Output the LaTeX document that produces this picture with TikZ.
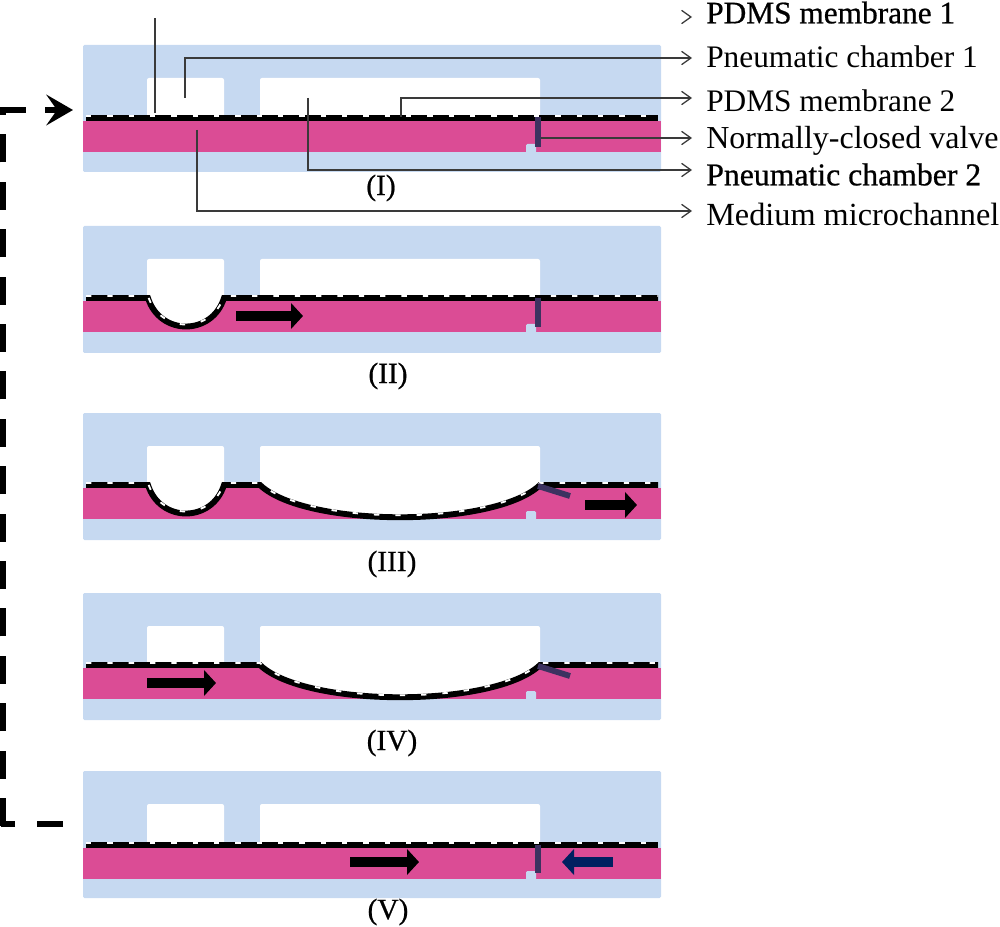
\documentclass[tikz,border=0pt]{standalone}
\usepackage{fontspec}
\setmainfont{Liberation Serif}
\newfontfamily\heavyserif[FakeBold=0.7]{Liberation Serif}
\usetikzlibrary{arrows.meta}

\definecolor{pdmsblue}{HTML}{C6D9F1}
\definecolor{mediumpink}{HTML}{DB4C95}
\definecolor{valvepurple}{HTML}{3C3260}
\definecolor{leadgray}{HTML}{3A3A3A}
\definecolor{backnavy}{HTML}{002060}

% black band of the membrane, with its white dashes along the upper edge
\newcommand{\membrane}[1]{
    \draw[membase] #1;
    \draw[memdash, yshift=1.5pt] #1;
}

\begin{document}
\begin{tikzpicture}[
    x=0.75pt, y=-0.75pt,
    membase/.style={line width=4.4pt, line cap=butt},
    memdash/.style={white, line width=1.4pt, dash pattern=on 4pt off 12pt},
    chamber/.style={fill=white, rounded corners=1.5pt},
    valve/.style={valvepurple, line width=4.4pt},
    arr/.style={leadgray, line width=0.95pt, -{Straight Barb[length=7pt,width=10pt]}},
    fatarr/.style={line width=7.5pt, -{Triangle[length=9pt,width=19pt]}},
    loopline/.style={line width=5pt},
    looparr/.style={loopline, dash pattern=on 21pt off 14.55pt,
        -{Stealth[length=20pt,width=23pt,inset=8pt]}},
    partlabel/.style={anchor=west, inner xsep=10.5pt, inner ysep=0pt,
        text height=16pt, text depth=5pt, font=\fontsize{23.5}{26}\selectfont},
    steplabel/.style={font=\fontsize{22}{24}\selectfont\heavyserif}
]
    \useasboundingbox (0,0) rectangle (1000,927);

    % Device body, medium layer and valve seat of every stage
    \foreach \t/\m in {45/72, 226/71, 413/71, 593/71, 771/73} {
        \fill[pdmsblue, rounded corners=1pt] (83,\t) rectangle (661,\t+127);
        \fill[mediumpink] (83,\t+\m+4) rectangle (661,\t+\m+35);
        \fill[pdmsblue, rounded corners=1pt] (526,\t+\m+36) rectangle (536,\t+\m+27);
        \fill[chamber] (147,\t+33) rectangle (224,\t+\m+1);
        \fill[chamber] (260,\t+33) rectangle (540,\t+\m+1);
    }

    % Stage I
    \membrane{(86,118) -- (658,118)}
    \draw[valve] (538,117) -- (538,147);

    % Stage II
    \fill[white] (147,297) .. controls (160,336) and (212,336) .. (224,297) -- cycle;
    \membrane{(86,298) -- (148,298) .. controls (160,336) and (212,336) .. (224,298) -- (658,298)}
    \draw[valve] (538,298) -- (538,327);
    \draw[fatarr] (236,316) -- (303,316);

    % Stage III
    \fill[white] (147,484) .. controls (160,523) and (212,523) .. (224,484) -- cycle;
    \fill[white] (260,484) .. controls (305,527) and (495,527) .. (540,484) -- cycle;
    \membrane{(86,485) -- (148,485) .. controls (160,523) and (212,523) .. (224,485) -- (260,485) .. controls (305,528) and (495,528) .. (540,485) -- (658,485)}
    \draw[valve] (538,486) -- (570,496);
    \draw[fatarr] (585,505) -- (637,505);

    % Stage IV
    \fill[white] (260,664) .. controls (305,707) and (495,707) .. (540,664) -- cycle;
    \membrane{(86,665) -- (260,665) .. controls (305,708) and (495,708) .. (540,665) -- (658,665)}
    \draw[valve] (538,666) -- (570,676);
    \draw[fatarr] (147,683) -- (216,683);

    % Stage V
    \membrane{(86,845) -- (658,845)}
    \draw[valve] (538,845) -- (538,873);
    \draw[fatarr] (350,862) -- (419,862);
    \draw[fatarr, backnavy] (613,862) -- (562,862);

    % Stage labels
    \node[steplabel] (stepone) at (381,188) {(I)};
    \node[steplabel] (steptwo) at (388,376) {(II)};
    \node[steplabel] (stepthree) at (392,564) {(III)};
    \node[steplabel] (stepfour) at (392,743) {(IV)};
    \node[steplabel] (stepfive) at (388,912) {(V)};

    % Part labels
    \node[partlabel, font=\fontsize{23.5}{26}\selectfont\heavyserif] (membraneone) at (692,16) {PDMS membrane 1};
    \node[partlabel] (chamberone) at (692,60) {Pneumatic chamber 1};
    \node[partlabel] (membranetwo) at (692,104) {PDMS membrane 2};
    \node[partlabel, font=\fontsize{24}{26}\selectfont] (valvepart) at (692,141) {Normally-closed valve};
    \node[partlabel, font=\fontsize{23.8}{26}\selectfont\heavyserif] (chambertwo) at (692,178) {Pneumatic chamber 2};
    \node[partlabel, font=\fontsize{24.2}{26}\selectfont] (microchannel) at (692,218) {Medium microchannel};

    % Leaders
    \coordinate (leadone) at (155,113);
    \coordinate (leadtwo) at (185,98);
    \coordinate (leadthree) at (401,117);
    \coordinate (leadfour) at (541,138);
    \coordinate (leadfive) at (308,98);
    \coordinate (leadsix) at (197,130);
    \coordinate (leadtop) at (155,18);

    \draw[leadgray, line width=0.95pt] (leadone) -- (leadtop);
    \draw[arr] ([xshift=-1pt,yshift=-0.75pt]membraneone.west) -- ([yshift=-0.75pt]membraneone.west);
    \draw[arr] (leadtwo) |- ([yshift=1.5pt]chamberone.west);
    \draw[arr] (leadthree) |- ([yshift=4.5pt]membranetwo.west);
    \draw[arr] (leadfour) -- ([yshift=2.25pt]valvepart.west);
    \draw[arr] (leadfive) |- ([yshift=6pt]chambertwo.west);
    \draw[arr] (leadsix) |- ([yshift=5.25pt]microchannel.west);

    % Return path
    \coordinate (loopstart) at (63,824);
    \coordinate (loopend) at (73,110);
    \coordinate (loopfoot) at (15,824);
    \coordinate (loopgap) at (37,824);
    \coordinate (loopcorner) at (0.5,824);
    \coordinate (loopup) at (3,826);
    \draw[loopline] (loopstart) -- (loopgap);
    \draw[loopline] (loopfoot) -- (loopcorner);
    \draw[looparr] (loopup) -- (3,110) -- (loopend);

\end{tikzpicture}
\end{document}
